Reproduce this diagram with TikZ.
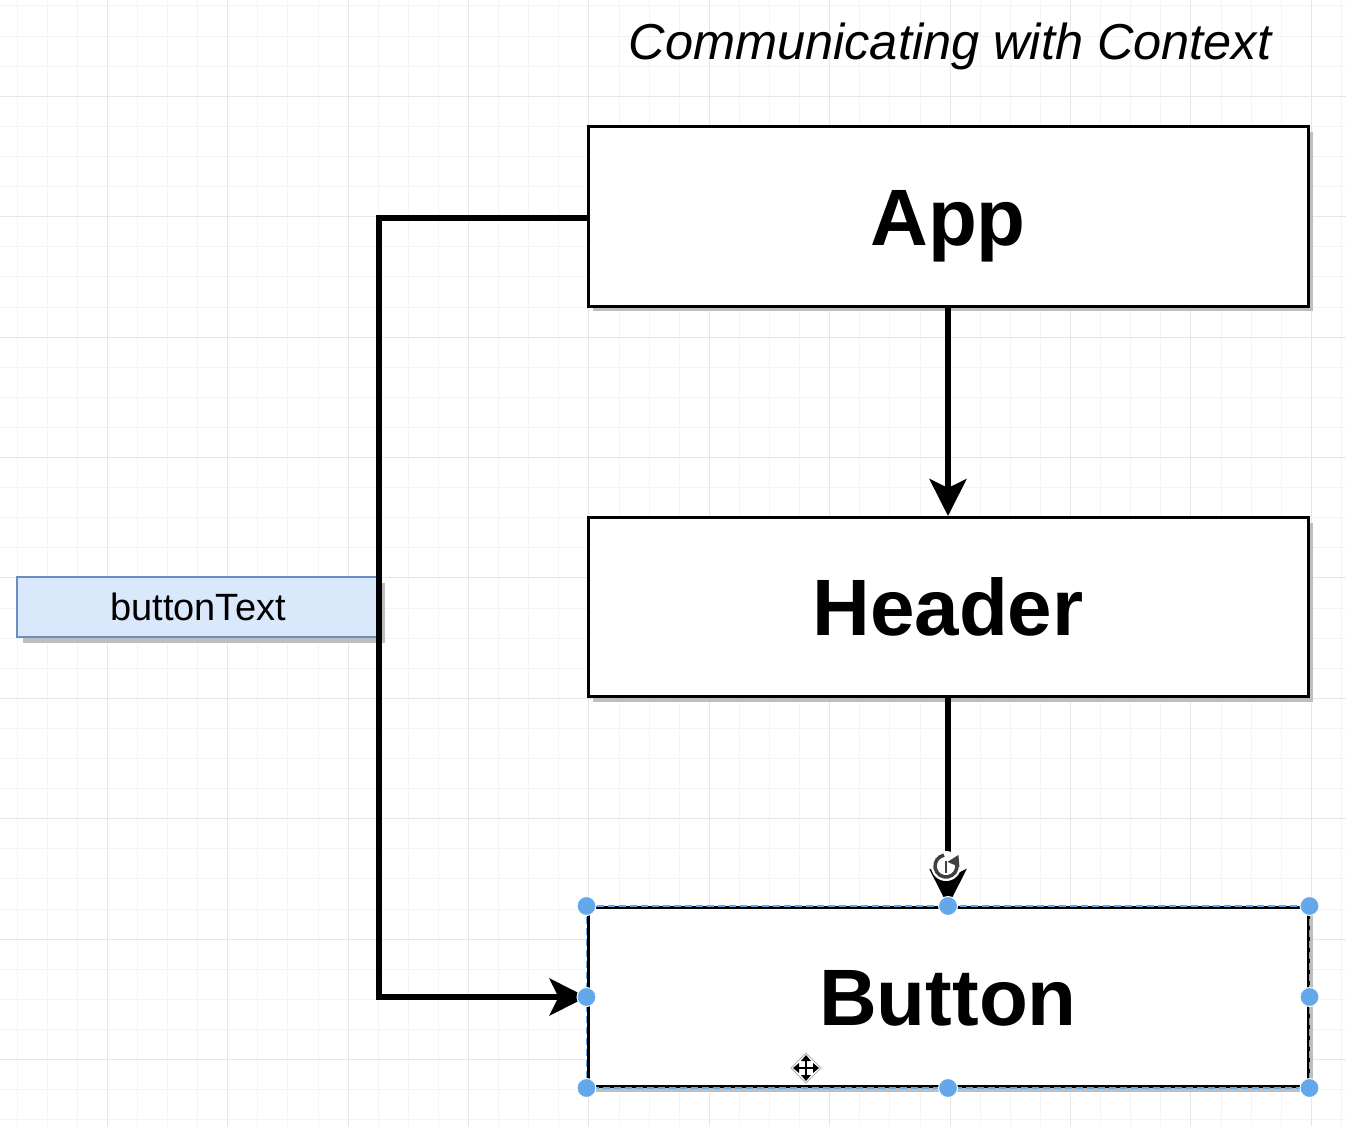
\documentclass[tikz,border=0pt]{standalone}
\usepackage{fontspec}
\setmainfont{Liberation Sans}
\usetikzlibrary{arrows.meta,shadows}
\definecolor{gridminor}{HTML}{F4F4F4}
\definecolor{gridmajor}{HTML}{E6E6E6}
\definecolor{notefill}{HTML}{DAE8FC}
\definecolor{notedraw}{HTML}{6C8EBF}
\definecolor{handleblue}{HTML}{62A8EA}
\definecolor{shadowgray}{HTML}{BEBEBE}

\begin{document}
\begin{tikzpicture}[x=1pt,y=-1pt,
  component/.style={draw=black, line width=3pt, fill=white,
    minimum width=720pt, minimum height=179pt, inner sep=0pt,
    font=\fontsize{80}{96}\selectfont\bfseries,
    text height=57pt, text depth=0pt,
    drop shadow={shadow xshift=5pt, shadow yshift=-5pt, fill=shadowgray, opacity=1}},
  note/.style={draw=notedraw, line width=2pt, fill=notefill,
    minimum width=362pt, minimum height=60pt, inner sep=0pt,
    font=\fontsize{38}{46}\selectfont,
    text height=27pt, text depth=0pt,
    drop shadow={shadow xshift=6pt, shadow yshift=-6pt, fill=shadowgray, opacity=1}},
  link/.style={draw=black, line width=5.5pt,
    -{Stealth[length=37pt, width=37pt, inset=9pt]}},
  rail/.style={draw=black, line width=5.5pt},
  handle/.style={circle, fill=handleblue, draw=white, line width=1pt,
    minimum size=19pt, inner sep=0pt},
]
% canvas
\fill[white] (0,0) rectangle (1346,1126);
\useasboundingbox (0,0) rectangle (1346,1126);

% background grid
\foreach \k in {0,...,44} {
  \pgfmathsetmacro{\gx}{17+30.1*\k}
  \draw[gridminor, line width=1pt] (\gx,0) -- (\gx,1126);
}
\foreach \k in {0,...,37} {
  \pgfmathsetmacro{\gy}{6+30.1*\k}
  \draw[gridminor, line width=1pt] (0,\gy) -- (1346,\gy);
}
\foreach \k in {3,7,...,43} {
  \pgfmathsetmacro{\gx}{17+30.1*\k}
  \draw[gridmajor, line width=1pt] (\gx,0) -- (\gx,1126);
}
\foreach \k in {3,7,...,35} {
  \pgfmathsetmacro{\gy}{6+30.1*\k}
  \draw[gridmajor, line width=1pt] (0,\gy) -- (1346,\gy);
}

% title
\node[font=\fontsize{50.5}{60}\selectfont\itshape, anchor=base] (title) at (950,60) {Communicating with Context};

% components
\node[component] (app) at (948,216.5) {App};
\node[component] (header) at (948,607) {Header};
\node[component] (button) at (948,997) {Button};

% context value
\node[note] (btntext) at (198,607) {buttonText};

% connectors
\coordinate (railx) at (379,0);
\draw[link] (app.south) -- (header.north);
\draw[link] (header.south) -- (button.north);
\draw[rail] ([yshift=-1.5pt]app.west) -- ([yshift=-1.5pt]app.west -| railx) -- (button.west -| railx);
\draw[link] ([xshift=-2.75pt]button.west -| railx) -- (button.west);

% selection outline of the button
\draw[handleblue, line width=1.2pt, dash pattern=on 7pt off 4pt]
  (button.north west) rectangle (button.south east);

% selection handles
\foreach \a in {north west, north, north east, west, east, south west, south, south east}
  \node[handle] at (button.\a) {};

% rotate handle
\coordinate (rot) at (946,866);
\fill[white] (rot) circle (15pt);
\draw[black!75, line width=3.5pt] ([shift={(100:11pt)}]rot) arc[start angle=100, end angle=400, radius=11pt];
\fill[black!75] ([shift={(40:11pt)}]rot) ++(-7pt,-3pt) -- ++(12pt,-5pt) -- ++(-1pt,12pt) -- cycle;
\draw[black!75, line width=2.5pt] (rot) ++(0,-7pt) -- ++(0,12pt);

% move cursor
\coordinate (mv) at (806,1068);
\fill[white, draw=black!30, line width=1pt] (mv) ++(-15pt,0) -- ++(15pt,-15pt) -- ++(15pt,15pt) -- ++(-15pt,15pt) -- cycle;
\draw[black, line width=2.5pt] (mv) ++(-10pt,0) -- ++(20pt,0);
\draw[black, line width=2.5pt] (mv) ++(0,-10pt) -- ++(0,20pt);
\foreach \r in {0,90,180,270}
  \fill[black, rotate around={\r:(mv)}] (mv) ++(13pt,0) -- ++(-6pt,-5pt) -- ++(0,10pt) -- cycle;
\end{tikzpicture}
\end{document}
